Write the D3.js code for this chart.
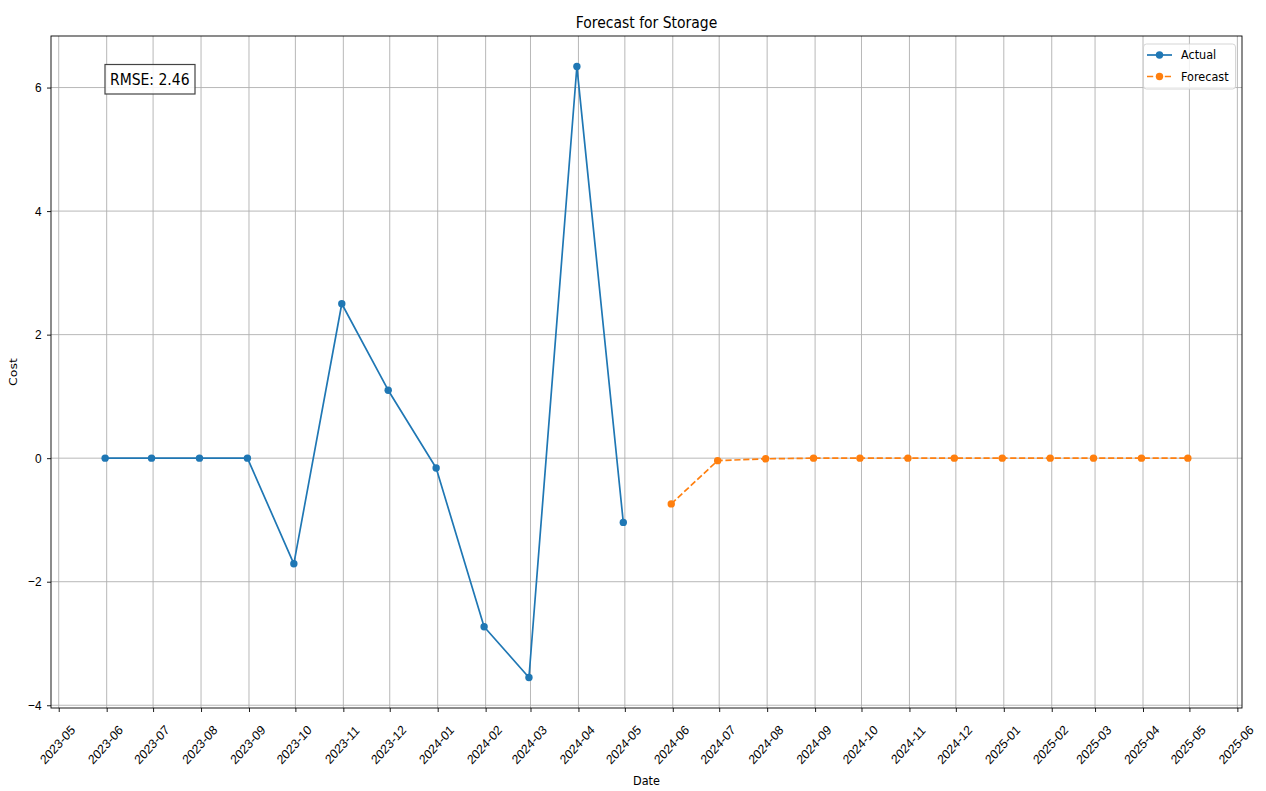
<!DOCTYPE html>
<html>
<head>
<meta charset="utf-8">
<script src="https://cdn.jsdelivr.net/npm/d3@7"></script>
<style>
  html, body { margin: 0; padding: 0; background: #fff; }
  svg { display: block; font-family: "DejaVu Sans", sans-serif; }
</style>
</head>
<body>
<svg id="chart" width="1266" height="791"></svg>
<script>
// ---- data ----
const actualDates = ["2023-05-31","2023-06-30","2023-07-31","2023-08-31","2023-09-30","2023-10-31",
                     "2023-11-30","2023-12-31","2024-01-31","2024-02-29","2024-03-31","2024-04-30"];
const actualValues = [0, 0, 0, 0, -1.71, 2.50, 1.10, -0.16, -2.73, -3.55, 6.34, -1.04];

const forecastDates = ["2024-05-31","2024-06-30","2024-07-31","2024-08-31","2024-09-30","2024-10-31",
                       "2024-11-30","2024-12-31","2025-01-31","2025-02-28","2025-03-31","2025-04-30"];
const forecastValues = [-0.74, -0.04, -0.01, 0, 0, 0, 0, 0, 0, 0, 0, 0];

const xTickLabels = ["2023-05","2023-06","2023-07","2023-08","2023-09","2023-10","2023-11","2023-12",
                     "2024-01","2024-02","2024-03","2024-04","2024-05","2024-06","2024-07","2024-08",
                     "2024-09","2024-10","2024-11","2024-12","2025-01","2025-02","2025-03","2025-04",
                     "2025-05","2025-06"];
const yTickValues = [-4, -2, 0, 2, 4, 6];
const rmseText = "RMSE: 2.46";
const titleText = "Forecast for Storage";

// ---- layout ----
const svg = d3.select("#chart");
const L = 51, R = 1242, T = 36, B = 708;
const C_ACT = "#1f77b4", C_FC = "#ff7f0e";
const SX = 0.9;        // horizontal squeeze of text
const FS = 12.5;       // base font size
const TFS = 13.2;      // tick font size

const parse = d3.utcParse("%Y-%m-%d");
const parseM = d3.utcParse("%Y-%m");
const actual = actualDates.map((d, i) => ({ date: parse(d), value: actualValues[i] }));
const forecast = forecastDates.map((d, i) => ({ date: parse(d), value: forecastValues[i] }));
const all = actual.concat(forecast);

// matplotlib-like 5% margins
const xExt = d3.extent(all, d => +d.date);
const xPad = (xExt[1] - xExt[0]) * 0.05;
const yExt = d3.extent(all, d => d.value);
const yPad = (yExt[1] - yExt[0]) * 0.05;

const x = d3.scaleUtc().domain([new Date(xExt[0] - xPad), new Date(xExt[1] + xPad)]).range([L, R]);
const y = d3.scaleLinear().domain([yExt[0] - yPad, yExt[1] + yPad]).range([B, T]);

const xTicks = xTickLabels.map(s => parseM(s));

function addText(parent, tx, ty, str, opts) {
  opts = opts || {};
  const t = parent.append("text")
    .attr("transform", `translate(${tx},${ty}) scale(${SX},1)` + (opts.rotate ? ` rotate(${opts.rotate})` : ""))
    .attr("font-size", opts.size || FS).attr("fill", "#000")
    .attr("text-anchor", opts.anchor || "start");
  if (opts.baseline) t.attr("dominant-baseline", opts.baseline);
  t.text(str);
  return t;
}

// grid
const grid = svg.append("g").attr("stroke", "#b0b0b0").attr("stroke-width", 0.9);
grid.selectAll("line.vx").data(xTicks).join("line")
  .attr("x1", d => x(d)).attr("x2", d => x(d)).attr("y1", T).attr("y2", B);
grid.selectAll("line.hy").data(yTickValues).join("line")
  .attr("x1", L).attr("x2", R).attr("y1", d => y(d)).attr("y2", d => y(d));

// axes via d3 (ticks only; labels drawn with squeeze)
const fmtX = d3.utcFormat("%Y-%m");
const xAxis = d3.axisBottom(x).tickValues(xTicks).tickFormat("").tickSizeInner(4).tickSizeOuter(0);
const gx = svg.append("g").attr("transform", `translate(0,${B})`).call(xAxis);
gx.select(".domain").remove();
gx.selectAll(".tick line").attr("stroke", "#000").attr("stroke-width", 0.9);
gx.selectAll(".tick").each(function(d) {
  addText(d3.select(this), -1.5, 37, fmtX(d), { anchor: "middle", baseline: "central", rotate: -45, size: TFS });
});

const fmtY = v => (v < 0 ? "\u2212" + Math.abs(v) : String(v));
const yAxis = d3.axisLeft(y).tickValues(yTickValues).tickFormat("").tickSizeInner(4).tickSizeOuter(0);
const gy = svg.append("g").attr("transform", `translate(${L},0)`).call(yAxis);
gy.select(".domain").remove();
gy.selectAll(".tick line").attr("stroke", "#000").attr("stroke-width", 0.9);
gy.selectAll(".tick").each(function(d) {
  addText(d3.select(this), -9.5, 0, fmtY(d), { anchor: "end", baseline: "central", size: TFS });
});

// spines
svg.append("rect").attr("x", L).attr("y", T).attr("width", R - L).attr("height", B - T)
  .attr("fill", "none").attr("stroke", "#000").attr("stroke-width", 0.9);

// lines
const line = d3.line().x(d => x(d.date)).y(d => y(d.value));
svg.append("path").datum(actual).attr("d", line).attr("fill", "none")
  .attr("stroke", C_ACT).attr("stroke-width", 1.7).attr("stroke-linejoin", "round");
svg.append("g").selectAll("circle").data(actual).join("circle")
  .attr("cx", d => x(d.date)).attr("cy", d => y(d.value)).attr("r", 3.7).attr("fill", C_ACT);

svg.append("path").datum(forecast).attr("d", line).attr("fill", "none")
  .attr("stroke", C_FC).attr("stroke-width", 1.7).attr("stroke-dasharray", "6.2,2.7");
svg.append("g").selectAll("circle").data(forecast).join("circle")
  .attr("cx", d => x(d.date)).attr("cy", d => y(d.value)).attr("r", 3.7).attr("fill", C_FC);

// title & axis labels
addText(svg, (L + R) / 2, 28, titleText, { anchor: "middle", size: 15.5 });
addText(svg, (L + R) / 2, 785, "Date", { anchor: "middle" });
addText(svg, 17, (T + B) / 2, "Cost", { anchor: "middle", rotate: -90 });

// RMSE box
const rg = svg.append("g");
addText(rg, 110, 79, rmseText, { size: 15.5, baseline: "central" });
rg.insert("rect", "text").attr("x", 105).attr("y", 64.5).attr("width", 90).attr("height", 29.5)
  .attr("fill", "#fff").attr("fill-opacity", 0.85).attr("stroke", "#444").attr("stroke-width", 1.2);

// legend
const lg = svg.append("g");
lg.append("rect").attr("x", 1143.5).attr("y", 44).attr("width", 92).attr("height", 45).attr("rx", 3)
  .attr("fill", "#fff").attr("fill-opacity", 0.8).attr("stroke", "#d0d0d0").attr("stroke-width", 0.9);
const items = [{ name: "Actual", color: C_ACT, dash: null, yy: 55 }, { name: "Forecast", color: C_FC, dash: "6.2,2.7", yy: 76.5 }];
items.forEach(it => {
  lg.append("line").attr("x1", 1147).attr("x2", 1172).attr("y1", it.yy).attr("y2", it.yy)
    .attr("stroke", it.color).attr("stroke-width", 1.7).attr("stroke-dasharray", it.dash);
  lg.append("circle").attr("cx", 1159.5).attr("cy", it.yy).attr("r", 3.7).attr("fill", it.color);
  addText(lg, 1181, it.yy, it.name, { baseline: "central" });
});
</script>
</body>
</html>
